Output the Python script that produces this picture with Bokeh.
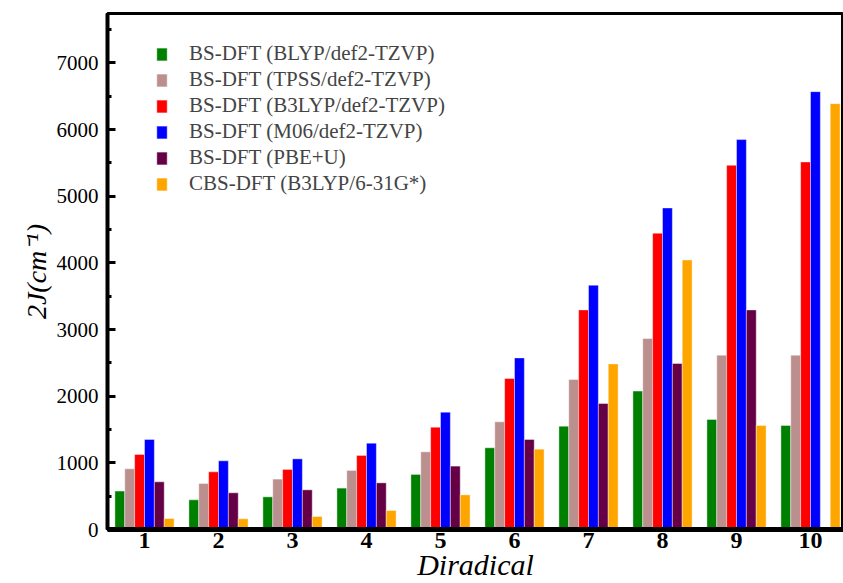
import math
from bokeh.plotting import figure
from bokeh.models import (ColumnDataSource, Range1d, FixedTicker, SingleIntervalTicker,
                          Legend, LegendItem)
from bokeh.transform import dodge
from bokeh.embed import file_html
from bokeh.resources import INLINE

# ---- data ----
diradicals = [1, 2, 3, 4, 5, 6, 7, 8, 9, 10]
blyp = [576, 445, 490, 621, 826, 1226, 1550, 2076, 1651, 1561]
tpss = [910, 691, 756, 886, 1165, 1615, 2250, 2865, 2615, 2615]
b3lyp = [1126, 865, 901, 1111, 1535, 2265, 3294, 4444, 5463, 5513]
m06 = [1351, 1030, 1060, 1295, 1760, 2574, 3664, 4823, 5849, 6568]
pbeu = [715, 550, 595, 700, 951, 1351, 1890, 2490, 3294, 0]
cbs = [166, 160, 196, 286, 520, 1205, 2484, 4043, 1561, 6388]

series_names = ["BS-DFT (BLYP/def2-TZVP)", "BS-DFT (TPSS/def2-TZVP)",
                "BS-DFT (B3LYP/def2-TZVP)", "BS-DFT (M06/def2-TZVP)",
                "BS-DFT (PBE+U)", "CBS-DFT (B3LYP/6-31G*)"]
series_keys = ["blyp", "tpss", "b3lyp", "m06", "pbeu", "cbs"]
colors = ["#008000", "#BC8F8F", "#FF0000", "#0000FF", "#650046", "#FFA500"]

FONT = "Liberation Serif"

source = ColumnDataSource(dict(x=diradicals, blyp=blyp, tpss=tpss, b3lyp=b3lyp,
                               m06=m06, pbeu=pbeu, cbs=cbs))

W, H = 843, 583
FL, FT, FB = 107, 13, 529          # frame left / top / bottom in px
PX_PER_X = 74.0
X0 = 0.5
frame_w = W - FL
YMAX = 7740

p = figure(width=W, height=H, output_backend="svg", toolbar_location=None,
           x_range=Range1d(X0, X0 + frame_w / PX_PER_X), y_range=Range1d(0, YMAX),
           min_border_left=FL, min_border_right=0, min_border_top=FT,
           min_border_bottom=H - FB)
p.background_fill_color = "white"
p.border_fill_color = "white"
p.xgrid.visible = False
p.ygrid.visible = False
p.outline_line_color = "black"
p.outline_line_width = 3

bw = 0.8 / 6
renderers = []
for i, (k, c) in enumerate(zip(series_keys, colors)):
    off = (i - 2.5) * bw
    r = p.vbar(x=dodge("x", off), top=k, width=bw, bottom=0, source=source,
               fill_color=c, line_color="white", line_width=0.6, line_alpha=0.7)
    renderers.append(r)

legend = Legend(items=[LegendItem(label=n, renderers=[r]) for n, r in zip(series_names, renderers)],
                location=(155 - FL, 333), orientation="vertical",
                glyph_width=13, glyph_height=16, label_standoff=21,
                label_text_font=FONT, label_text_font_size="21px",
                label_height=20, spacing=1, padding=0, margin=0,
                border_line_color=None, background_fill_alpha=0)
p.add_layout(legend)

# axes
xa = p.xaxis[0]
xa.ticker = FixedTicker(ticks=diradicals)
xa.major_tick_in = 0
xa.major_tick_out = 0
xa.minor_tick_in = 0
xa.minor_tick_out = 0
xa.axis_line_width = 5
xa.axis_line_color = "black"
xa.major_label_text_font = FONT
xa.major_label_text_font_style = "bold"
xa.major_label_text_font_size = "24px"
xa.major_label_text_color = "black"
xa.major_label_standoff = 3
xa.axis_label = "Diradical"
xa.axis_label_text_font = FONT
xa.axis_label_text_font_style = "italic"
xa.axis_label_text_font_size = "30px"
xa.axis_label_text_color = "black"
xa.axis_label_standoff = -3

ya = p.yaxis[0]
ya.ticker = SingleIntervalTicker(interval=1000, num_minor_ticks=2)
ya.major_tick_in = 8
ya.major_tick_out = 0
ya.minor_tick_in = 4
ya.minor_tick_out = 0
ya.major_tick_line_width = 3
ya.minor_tick_line_width = 3
ya.axis_line_width = 4
ya.axis_line_color = "black"
ya.major_label_text_font = FONT
ya.major_label_text_font_size = "21px"
ya.major_label_text_color = "black"
ya.major_label_standoff = 9
ya.axis_label = "2J(cm\u207b\u00b9)"
ya.axis_label_text_font = FONT
ya.axis_label_text_font_style = "italic"
ya.axis_label_text_font_size = "28px"
ya.axis_label_text_color = "black"
ya.axis_label_standoff = 2

open("out.html", "w").write(file_html(p, INLINE))
